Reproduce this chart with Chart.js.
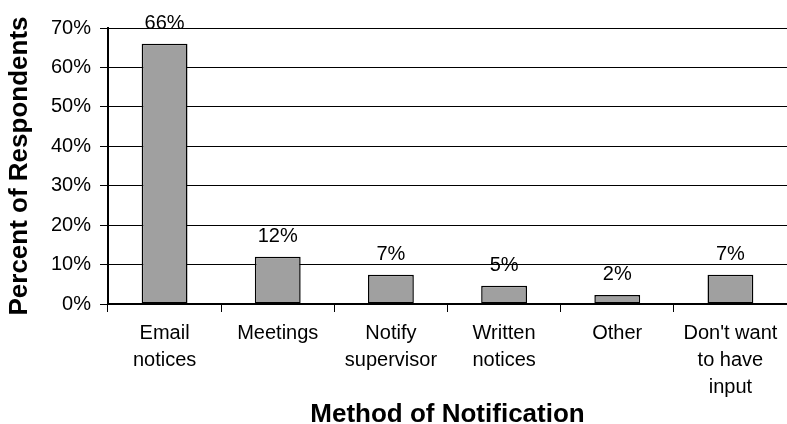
<!DOCTYPE html>
<html>
<head>
<meta charset="utf-8">
<script src="https://cdn.jsdelivr.net/npm/chart.js@4/dist/chart.umd.min.js"></script>
<style>
  html, body { margin: 0; padding: 0; background: #fff; }
  #wrap { width: 787px; height: 424px; }
</style>
</head>
<body>
<div id="wrap"><canvas id="methodChart" width="787" height="424"></canvas></div>
<script>
const categories = [
    ['Email', 'notices'],
    ['Meetings'],
    ['Notify', 'supervisor'],
    ['Written', 'notices'],
    ['Other'],
    ["Don't want", 'to have', 'input']
];
const percents = [66, 12, 7.4, 4.6, 2.3, 7.4];
const yTicks = [0, 10, 20, 30, 40, 50, 60, 70];

const FONT = "'Liberation Sans', Arial, sans-serif";

// draws the percentage above each bar
const valueLabels = {
    id: 'valueLabels',
    afterDatasetsDraw(chart) {
        const ctx = chart.ctx;
        const meta = chart.getDatasetMeta(0);
        ctx.save();
        ctx.font = '20px ' + FONT;
        ctx.fillStyle = '#000';
        ctx.textAlign = 'center';
        ctx.textBaseline = 'alphabetic';
        meta.data.forEach((bar, i) => {
            ctx.fillText(Math.round(percents[i]) + '%', bar.x, bar.y - 15);
        });
        ctx.restore();
    }
};

function createChart() {
    const ctx = document.getElementById('methodChart').getContext('2d');

    return new Chart(ctx, {
        type: 'bar',
        data: {
            labels: categories,
            datasets: [{
                data: percents,
                backgroundColor: '#a0a0a0',
                borderColor: '#000',
                borderWidth: 1.5,
                borderSkipped: false,
                barPercentage: 0.405,
                categoryPercentage: 1
            }]
        },
        options: {
            responsive: false,
            animation: false,
            layout: { padding: { top: 28, right: -3, bottom: 0, left: 0 } },
            plugins: {
                legend: { display: false },
                tooltip: { enabled: false }
            },
            scales: {
                x: {
                    afterFit(scale) { scale.height = 120; },
                    grid: {
                        display: true,
                        drawOnChartArea: false,
                        drawTicks: true,
                        tickLength: 8,
                        color: '#000',
                        lineWidth: 1,
                        offset: true
                    },
                    border: { color: '#000', width: 2 },
                    ticks: {
                        color: '#000',
                        padding: 8,
                        maxRotation: 0,
                        autoSkip: false,
                        font: { family: FONT, size: 20, lineHeight: 1.35 }
                    },
                    title: {
                        display: true,
                        text: 'Method of Notification',
                        color: '#000',
                        padding: { top: 0, bottom: 0 },
                        font: { family: FONT, size: 26, weight: 'bold', lineHeight: '18px' }
                    }
                },
                y: {
                    min: 0,
                    max: 70,
                    afterFit(scale) { scale.width = 108; },
                    afterBuildTicks(scale) { scale.ticks = yTicks.map(v => ({ value: v })); },
                    grid: {
                        color: '#000',
                        lineWidth: 1,
                        drawTicks: true,
                        tickLength: 8
                    },
                    border: { color: '#000', width: 2 },
                    ticks: {
                        color: '#000',
                        padding: 9,
                        font: { family: FONT, size: 20 },
                        callback: v => v + '%'
                    },
                    title: {
                        display: true,
                        text: 'Percent of Respondents',
                        color: '#000',
                        padding: { top: 4, bottom: 0 },
                        font: { family: FONT, size: 26, weight: 'bold', lineHeight: 1.2 }
                    }
                }
            }
        },
        plugins: [valueLabels]
    });
}

document.addEventListener('DOMContentLoaded', createChart);
</script>
</body>
</html>
